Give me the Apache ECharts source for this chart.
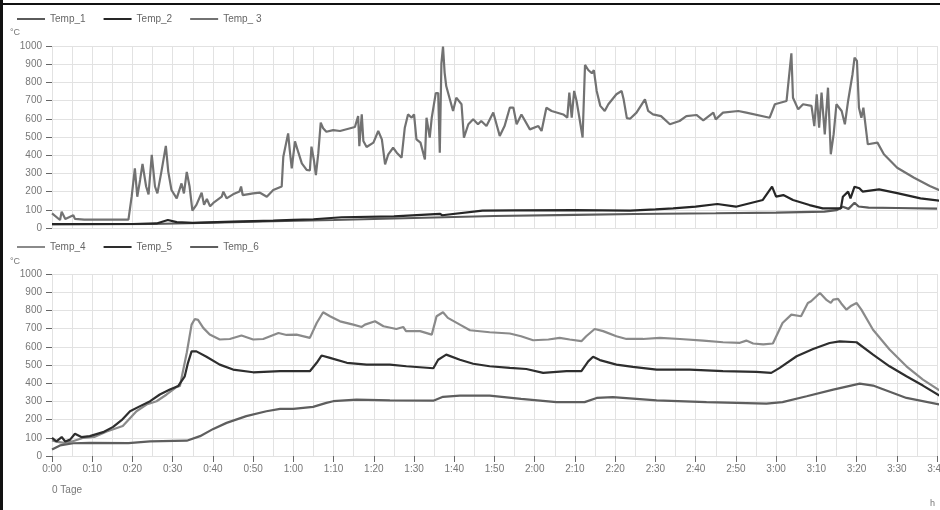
<!DOCTYPE html>
<html>
<head>
<meta charset="utf-8">
<script src="https://cdn.jsdelivr.net/npm/echarts@6/dist/echarts.min.js"></script>
<style>
  html, body { margin: 0; padding: 0; background: #fff; }
  #chart { width: 940px; height: 510px; }
</style>
</head>
<body>
<div id="chart"></div>
<script>
// time in minutes from start, value in °C
const names = ['Temp_1', 'Temp_2', 'Temp_ 3', 'Temp_4', 'Temp_5', 'Temp_6'];

const temp1 = [[0, 20], [25, 22], [40, 30], [55, 38], [70, 44], [90, 55], [110, 66], [130, 72], [145, 77],
  [165, 81], [180, 85], [192, 90], [195, 98], [196.6, 117], [198, 105], [199.5, 139], [200.5, 118],
  [203, 112], [210, 110], [220, 106]];

const temp2 = [[0, 22], [20, 22], [26, 25], [28.8, 44], [31, 32], [35, 28], [45, 35], [55, 40], [60, 45],
  [65, 48], [72, 59], [85, 64], [96.4, 78], [97, 70], [107, 95], [115, 97], [130, 98], [143.7, 96],
  [150, 102], [154.4, 108], [160, 117], [165.4, 132], [170, 117], [176.7, 154], [179, 227], [180, 172],
  [181.8, 181], [184.2, 154], [188.3, 126], [191.6, 108], [196.1, 108], [196.6, 172], [197.9, 200],
  [198.5, 163], [199.5, 227], [200.7, 218], [201.5, 200], [205.6, 212], [210.1, 192], [215.9, 163],
  [220.8, 150]];

const temp3 = [[0, 80], [2, 44], [2.4, 90], [3.3, 50], [5.3, 70], [5.7, 50], [8, 46], [19, 46],
  [19.8, 172], [20.6, 328], [21.2, 172], [21.9, 264], [22.5, 352], [23.4, 228], [24, 185], [24.8, 402],
  [25.6, 228], [26.2, 190], [27.2, 310], [28.3, 451], [28.9, 310], [29.7, 209], [31, 163], [32.2, 245],
  [32.8, 190], [33.5, 308], [34.2, 228], [34.9, 95], [35.9, 127], [37.2, 194], [37.8, 127], [38.5, 159],
  [39.3, 119], [40.1, 138], [42.2, 172], [42.6, 200], [43.4, 163], [45, 185], [46.6, 200], [47, 228],
  [47.4, 181], [50, 190], [51.7, 194], [53.4, 172], [55, 209], [57.1, 228], [57.5, 392], [58.7, 520],
  [59.1, 428], [59.6, 328], [60.4, 476], [61.3, 411], [62.1, 355], [63.3, 319], [64.1, 316], [64.5, 447],
  [65.1, 374], [65.6, 290], [66.2, 411], [66.8, 579], [67.4, 548], [68.2, 529], [69.9, 538], [71.6, 533],
  [75.3, 555], [76.1, 615], [76.4, 450], [77, 624], [77.4, 478], [78.2, 445], [79.9, 469], [81.1, 533],
  [82, 487], [82.8, 349], [83.6, 405], [84.8, 441], [85.7, 414], [86.9, 386], [87.7, 551], [88.5, 624],
  [89.4, 606], [90, 624], [90.6, 487], [91.6, 469], [92.7, 377], [93.1, 606], [93.9, 497], [94.4, 606],
  [95.4, 741], [96, 741], [96.4, 414], [96.8, 905], [97.2, 997], [97.6, 854], [98, 780], [98.9, 707],
  [99.7, 643], [100.5, 716], [101.8, 680], [102.4, 497], [103.5, 570], [104.7, 597], [105.9, 570],
  [106.7, 588], [108, 560], [109.7, 634], [110.5, 570], [111.3, 506], [112.5, 560], [113.8, 661],
  [114.7, 661], [115.5, 570], [116.7, 624], [118.8, 542], [120.9, 560], [121.7, 533], [122.9, 661],
  [124.2, 643], [127.1, 624], [128.1, 606], [128.6, 744], [129.2, 606], [129.8, 753], [130.4, 698],
  [131.1, 606], [131.9, 497], [132.5, 896], [133.3, 868], [134.2, 850], [134.7, 868], [135.4, 753],
  [136.3, 671], [137.4, 643], [138.3, 680], [140.3, 735], [141.6, 753], [142.1, 707], [142.9, 604],
  [143.7, 600], [145.3, 634], [147.4, 707], [148.2, 643], [149.4, 624], [151.4, 615], [153.6, 570],
  [156, 588], [157.7, 615], [160.2, 621], [161.9, 592], [164.4, 634], [165, 597], [166.8, 634],
  [170.6, 643], [172.6, 634], [178.4, 606], [179.7, 680], [182.6, 698], [183.8, 960], [184.2, 716],
  [185.5, 652], [186.7, 680], [188.8, 671], [189.5, 560], [190.1, 735], [190.7, 551], [191.3, 744],
  [192.1, 514], [192.9, 771], [193.6, 405], [194.3, 514], [195, 680], [196.3, 643], [197.1, 570],
  [197.9, 698], [199, 845], [199.5, 936], [200.1, 918], [200.6, 661], [201.2, 606], [201.7, 661],
  [202.8, 460], [205.2, 469], [206.8, 405], [210.1, 331], [214.3, 276], [218.2, 231], [220.7, 207]];

const temp4 = [[0, 85], [1.4, 78], [3, 72], [5, 80], [7.8, 100], [10.5, 105], [13.6, 135], [17.6, 165],
  [21, 246], [23.5, 283], [26, 301], [28.5, 338], [31, 380], [31.8, 385], [33.5, 567], [34.7, 722],
  [35.5, 753], [36.3, 748], [37.6, 704], [39.2, 667], [41.7, 640], [44.2, 643], [47.1, 662], [50, 640],
  [52.5, 643], [56.3, 676], [58.3, 665], [60.8, 667], [64.1, 649], [65.8, 731], [67.4, 790], [69.1, 768],
  [71.6, 740], [74.9, 722], [77, 709], [77.8, 722], [80.3, 740], [82.4, 713], [85.6, 698], [87.3, 709],
  [88, 686], [91.5, 686], [94.4, 667], [95.6, 768], [97.2, 790], [98.4, 759], [101.4, 722], [103.9, 691],
  [108.8, 680], [113.8, 673], [116.6, 658], [119.6, 636], [123.4, 640], [126.2, 649], [128.7, 640],
  [131.6, 631], [132.8, 658], [134.9, 698], [137, 686], [140.3, 658], [142.8, 643], [146.9, 643],
  [151.1, 649], [156.1, 643], [161.9, 634], [166.8, 625], [171, 622], [172.6, 634], [174.3, 618],
  [176.8, 613], [179.2, 618], [181.6, 731], [183.8, 777], [186.2, 768], [187.9, 841], [188.7, 850],
  [190.9, 896], [192.6, 856], [193.6, 841], [194.2, 859], [195.4, 863], [196.2, 838], [197.5, 804],
  [198.7, 826], [200, 841], [201.2, 804], [204.1, 694], [208.2, 585], [212.4, 493], [216.5, 420],
  [220.6, 361]];

const temp5 = [[0, 100], [1.1, 80], [2.4, 104], [3.3, 80], [4.5, 90], [5.7, 122], [7.3, 104], [9.4, 109],
  [12.7, 131], [15.2, 160], [17.3, 197], [19.4, 246], [21.9, 274], [24.4, 301], [26.8, 338], [29.3, 365],
  [31.4, 385], [33, 438], [33.8, 512], [34.7, 575], [35.9, 575], [38.4, 545], [41.7, 502], [45, 475],
  [50, 460], [56.7, 466], [64.1, 466], [65.8, 512], [67, 552], [69.1, 539], [73.3, 512], [78.2, 502],
  [84, 502], [88.1, 493], [94.8, 482], [96, 529], [98, 557], [101.4, 529], [104.7, 507], [108.8, 493],
  [113.8, 484], [117.9, 478], [122.1, 457], [127.9, 466], [131.6, 466], [133.3, 520], [134.5, 545],
  [136.2, 527], [140.3, 502], [144.4, 490], [150.3, 475], [158.5, 475], [166.8, 466], [175.1, 462],
  [178.8, 457], [180.9, 484], [185.1, 548], [189.2, 588], [193.3, 621], [195.8, 630], [200, 625],
  [204.1, 557], [208.2, 493], [212.4, 438], [216.5, 387], [220.6, 332]];

const temp6 = [[0, 36], [2, 58], [5.3, 70], [9.4, 72], [19, 71], [24.4, 80], [33.5, 84], [36.8, 109],
  [40.1, 149], [43.4, 182], [48.3, 219], [53.3, 246], [56.7, 259], [60, 259], [64.9, 270], [68.2, 292],
  [69.9, 301], [75.7, 310], [84, 306], [94.8, 304], [97.2, 325], [101.4, 332], [108.8, 332], [116.6, 314],
  [125.4, 296], [132.4, 296], [135.4, 319], [139.4, 323], [150.3, 306], [162.7, 296], [177.6, 288],
  [181.6, 296], [187.6, 328], [194.2, 365], [200.8, 398], [204.1, 387], [212.4, 319], [220.6, 283]];

const colors = ['#5a5a5a', '#262626', '#727272', '#8a8a8a', '#2e2e2e', '#5e5e5e'];

const chart = echarts.init(document.getElementById('chart'));

const fmtTime = (v) => {
  const h = Math.floor(v / 60);
  const m = Math.round(v % 60);
  return h + ':' + (m < 10 ? '0' + m : m);
};

const xAxisBase = {
  type: 'value',
  min: 0,
  max: 220,
  interval: 10,
  axisLine: { show: true, lineStyle: { color: '#e2e2e2' } },
  splitLine: { show: true, lineStyle: { color: '#e2e2e2' } },
  minorTick: { show: false, splitNumber: 2 },
  minorSplitLine: { show: true, lineStyle: { color: '#e2e2e2' } },
};

const yAxisBase = {
  type: 'value',
  min: 0,
  max: 1000,
  interval: 100,
  axisLine: { show: false },
  axisTick: { show: true, length: 6, lineStyle: { color: '#666' } },
  axisLabel: {
    color: '#777', fontSize: 10, fontFamily: 'Liberation Sans', margin: 10,
    formatter: (v) => String(v),
  },
  splitLine: { show: true, lineStyle: { color: '#e2e2e2' } },
};

const line = (idx, data, xi) => ({
  name: names[idx],
  type: 'line',
  xAxisIndex: xi,
  yAxisIndex: xi,
  data: data,
  showSymbol: false,
  smooth: false,
  color: colors[idx],
  lineStyle: { width: 2.2, color: colors[idx] },
});

const legendBase = {
  left: 12,
  icon: 'rect',
  itemWidth: 28,
  itemHeight: 2,
  itemGap: 18,
  textStyle: { color: '#666', fontSize: 10, fontFamily: 'Liberation Sans' },
};

const option = {
  animation: false,
  backgroundColor: '#fff',
  legend: [
    Object.assign({ top: 9, data: names.slice(0, 3) }, legendBase),
    Object.assign({ top: 237, data: names.slice(3) }, legendBase),
  ],
  grid: [
    { left: 52, right: 3, top: 46, height: 182, containLabel: false, outerBoundsMode: 'none' },
    { left: 52, right: 3, top: 274, height: 182, containLabel: false, outerBoundsMode: 'none' },
  ],
  xAxis: [
    Object.assign({ gridIndex: 0, axisTick: { show: false }, axisLabel: { show: false } }, xAxisBase),
    Object.assign({
      gridIndex: 1,
      axisTick: { show: true, length: 6, lineStyle: { color: '#666' } },
      axisLabel: {
        color: '#777', fontSize: 10, fontFamily: 'Liberation Sans', margin: 8,
        formatter: fmtTime,
      },
    }, xAxisBase),
  ],
  yAxis: [
    Object.assign({ gridIndex: 0 }, yAxisBase),
    Object.assign({ gridIndex: 1 }, yAxisBase),
  ],
  graphic: [
    { type: 'rect', shape: { x: 0, y: 0, width: 3, height: 510 }, style: { fill: '#111' } },
    { type: 'rect', shape: { x: 0, y: 3, width: 940, height: 2 }, style: { fill: '#111' } },
    { type: 'text', left: 10, top: 28, style: { text: '°C', fill: '#777', fontSize: 9, fontFamily: 'Liberation Sans' } },
    { type: 'text', left: 10, top: 257, style: { text: '°C', fill: '#777', fontSize: 9, fontFamily: 'Liberation Sans' } },
    { type: 'text', left: 52, top: 485, style: { text: '0 Tage', fill: '#777', fontSize: 10, fontFamily: 'Liberation Sans' } },
    { type: 'text', left: 930, top: 499, style: { text: 'h', fill: '#777', fontSize: 9, fontFamily: 'Liberation Sans' } },
  ],
  series: [
    line(0, temp1, 0),
    line(1, temp2, 0),
    line(2, temp3, 0),
    line(3, temp4, 1),
    line(4, temp5, 1),
    line(5, temp6, 1),
  ],
};

chart.setOption(option);
</script>
</body>
</html>
